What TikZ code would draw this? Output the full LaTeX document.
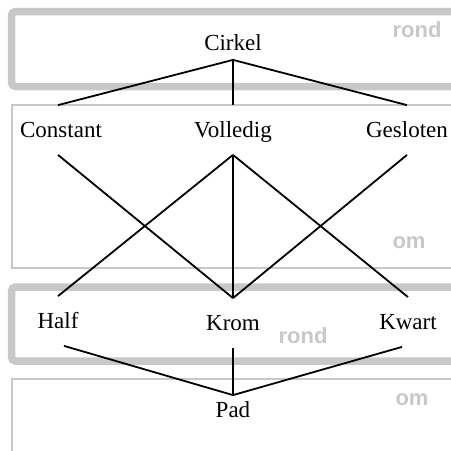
\documentclass[tikz,border=0pt]{standalone}
\usepackage{fontspec}
\setmainfont{Liberation Serif}
\newfontfamily\labelfont{Liberation Sans}
\definecolor{kader}{RGB}{200,200,200}
\tikzset{
  woord/.style={inner sep=0pt, text height=9pt, text depth=1.5pt, font=\fontsize{11.5}{14}\selectfont},
  rond/.style={draw=kader, line width=3.75pt, rounded corners=2pt},
  om/.style={draw=kader, line width=1.25pt},
  etiket/.style={text=kader, font=\labelfont\bfseries\fontsize{11}{13}\selectfont}
}

\begin{document}
\begin{tikzpicture}[x=0.5pt, y=-0.5pt, line width=0.9pt]
\useasboundingbox (0,0) rectangle (451,451);
\clip (0,0) rectangle (451,451);
% kaders
\draw[rond] (11.5,11.5) rectangle (480,86.5);
\draw[om] (12,105) rectangle (480,268);
\draw[rond] (11.5,287) rectangle (480,361);
\draw[om] (12,379) rectangle (480,480);
\node[etiket] (r1) at (417,30) {rond};
\node[etiket] (o1) at (409,243) {om};
\node[etiket] (r2) at (303,336) {rond};
\node[etiket] (o2) at (412,400) {om};
% woorden
\node[woord, minimum height=16pt] (cirkel) at (233,43) {Cirkel};
\node[woord, minimum height=24pt] (constant) at (61,130) {Constant};
\node[woord, minimum height=24pt] (volledig) at (233,130) {Volledig};
\node[woord, minimum height=24pt] (gesloten) at (407,130) {Gesloten};
\node[woord, minimum height=24pt] (half) at (58,321) {Half};
\node[woord, minimum height=24pt] (krom) at (233,323) {Krom};
\node[woord, minimum height=24pt] (kwart) at (408,322) {Kwart};
\node[woord, minimum height=14pt] (pad) at (233,410) {Pad};
\draw (cirkel.south) -- ([xshift=-1.5pt]constant.north);
\draw (cirkel.south) -- (volledig.north);
\draw (cirkel.south) -- (gesloten.north);
\draw ([xshift=-1.5pt]constant.south) -- (krom.north);
\draw (volledig.south) -- (half.north);
\draw (volledig.south) -- (krom.north);
\draw (volledig.south) -- (kwart.north);
\draw (gesloten.south) -- (krom.north);
\draw ([xshift=3pt]half.south) -- (pad.north);
\draw (krom.south) -- (pad.north);
\draw ([xshift=-3pt]kwart.south) -- (pad.north);
\end{tikzpicture}
\end{document}
